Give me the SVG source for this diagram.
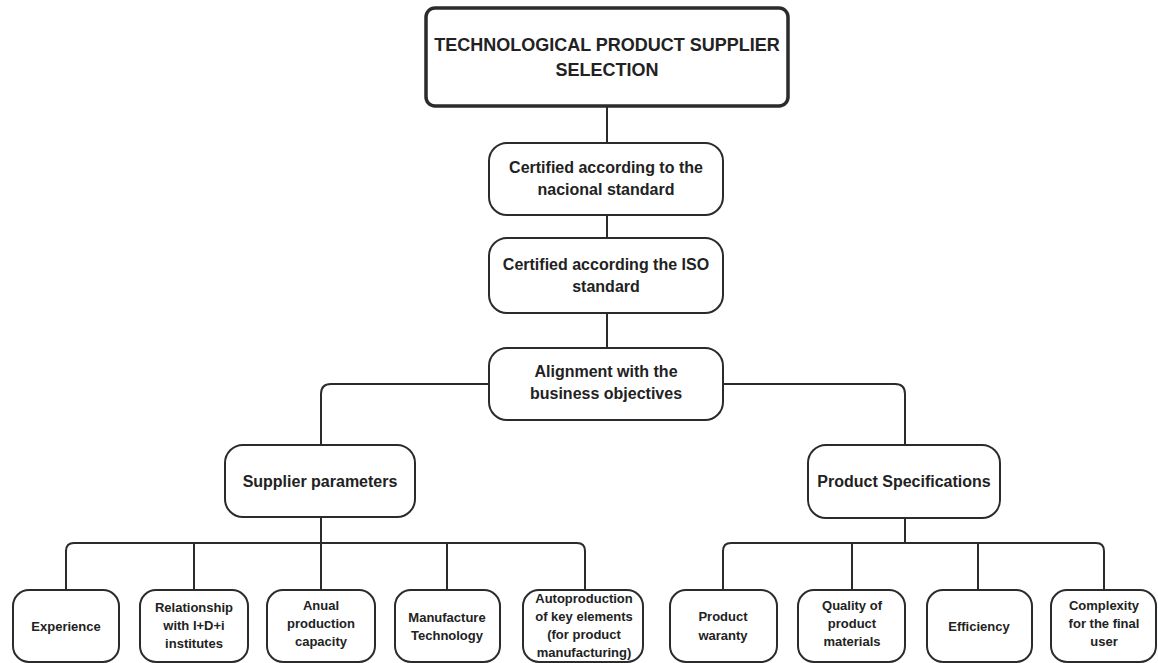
<svg xmlns="http://www.w3.org/2000/svg" width="1158" height="663" viewBox="0 0 1158 663">
<style>
.box{fill:#fff;stroke:#2b2b2b;stroke-width:2}
.top{fill:#fff;stroke:#2b2b2b;stroke-width:3.5}
.c{fill:none;stroke:#2b2b2b;stroke-width:2}
text{font-family:"Liberation Sans",Arial,sans-serif;font-weight:bold;fill:#222;text-anchor:middle}
.t1{font-size:18px}
.t2{font-size:16px}
.t3{font-size:13px}
</style>
<rect width="1158" height="663" fill="#fff"/>
<g id="connectors">
<path class="c" d="M607 106V143"/>
<path class="c" d="M607 215V238"/>
<path class="c" d="M607 313V348"/>
<path class="c" d="M489 384H331Q321 384 321 394V445"/>
<path class="c" d="M723 384H895Q905 384 905 394V445"/>
<path class="c" d="M321 517V543"/>
<path class="c" d="M66 590V551Q66 543 74 543H577Q585 543 585 551V590"/>
<path class="c" d="M194 543V590M321 543V590M447 543V590"/>
<path class="c" d="M905 518V543"/>
<path class="c" d="M723 590V551Q723 543 731 543H1096Q1104 543 1104 551V590"/>
<path class="c" d="M852 543V590M978 543V590"/>
</g>
<g id="n-top">
<rect class="top" x="426" y="8" width="362" height="98" rx="9"/>
<text class="t1" x="607" y="51">TECHNOLOGICAL PRODUCT SUPPLIER</text>
<text class="t1" x="607" y="76">SELECTION</text>
</g>
<g id="n-national">
<rect class="box" x="489" y="143" width="234" height="72" rx="18"/>
<text class="t2" x="606" y="173">Certified according to the</text>
<text class="t2" x="606" y="195">nacional standard</text>
</g>
<g id="n-iso">
<rect class="box" x="489" y="238" width="234" height="75" rx="18"/>
<text class="t2" x="606" y="270">Certified according the ISO</text>
<text class="t2" x="606" y="292">standard</text>
</g>
<g id="n-align">
<rect class="box" x="489" y="348" width="234" height="72" rx="18"/>
<text class="t2" x="606" y="377">Alignment with the</text>
<text class="t2" x="606" y="399">business objectives</text>
</g>
<g id="n-supplier">
<rect class="box" x="225" y="445" width="190" height="72" rx="18"/>
<text class="t2" x="320" y="487">Supplier parameters</text>
</g>
<g id="n-product">
<rect class="box" x="808" y="445" width="192" height="73" rx="18"/>
<text class="t2" x="904" y="487">Product Specifications</text>
</g>
<g id="n-experience">
<rect class="box" x="13" y="590" width="106" height="72" rx="16"/>
<text class="t3" x="66" y="631">Experience</text>
</g>
<g id="n-relationship">
<rect class="box" x="140" y="590" width="108" height="72" rx="16"/>
<text class="t3" x="194" y="612">Relationship</text>
<text class="t3" x="194" y="630">with I+D+i</text>
<text class="t3" x="194" y="648">institutes</text>
</g>
<g id="n-anual">
<rect class="box" x="267" y="590" width="108" height="72" rx="16"/>
<text class="t3" x="321" y="610">Anual</text>
<text class="t3" x="321" y="628">production</text>
<text class="t3" x="321" y="646">capacity</text>
</g>
<g id="n-manufacture">
<rect class="box" x="395" y="590" width="105" height="72" rx="16"/>
<text class="t3" x="447" y="622">Manufacture</text>
<text class="t3" x="447" y="640">Technology</text>
</g>
<g id="n-autoproduction">
<rect class="box" x="523" y="590" width="120" height="72" rx="16"/>
<text class="t3" x="584" y="603">Autoproduction</text>
<text class="t3" x="584" y="621">of key elements</text>
<text class="t3" x="584" y="639">(for product</text>
<text class="t3" x="584" y="657">manufacturing)</text>
</g>
<g id="n-warranty">
<rect class="box" x="670" y="590" width="107" height="72" rx="16"/>
<text class="t3" x="723" y="621">Product</text>
<text class="t3" x="723" y="640">waranty</text>
</g>
<g id="n-quality">
<rect class="box" x="798" y="590" width="107" height="72" rx="16"/>
<text class="t3" x="852" y="610">Quality of</text>
<text class="t3" x="852" y="628">product</text>
<text class="t3" x="852" y="646">materials</text>
</g>
<g id="n-efficiency">
<rect class="box" x="927" y="590" width="105" height="72" rx="16"/>
<text class="t3" x="979" y="631">Efficiency</text>
</g>
<g id="n-complexity">
<rect class="box" x="1051" y="590" width="105" height="72" rx="16"/>
<text class="t3" x="1104" y="610">Complexity</text>
<text class="t3" x="1104" y="628">for the final</text>
<text class="t3" x="1104" y="646">user</text>
</g>
</svg>
